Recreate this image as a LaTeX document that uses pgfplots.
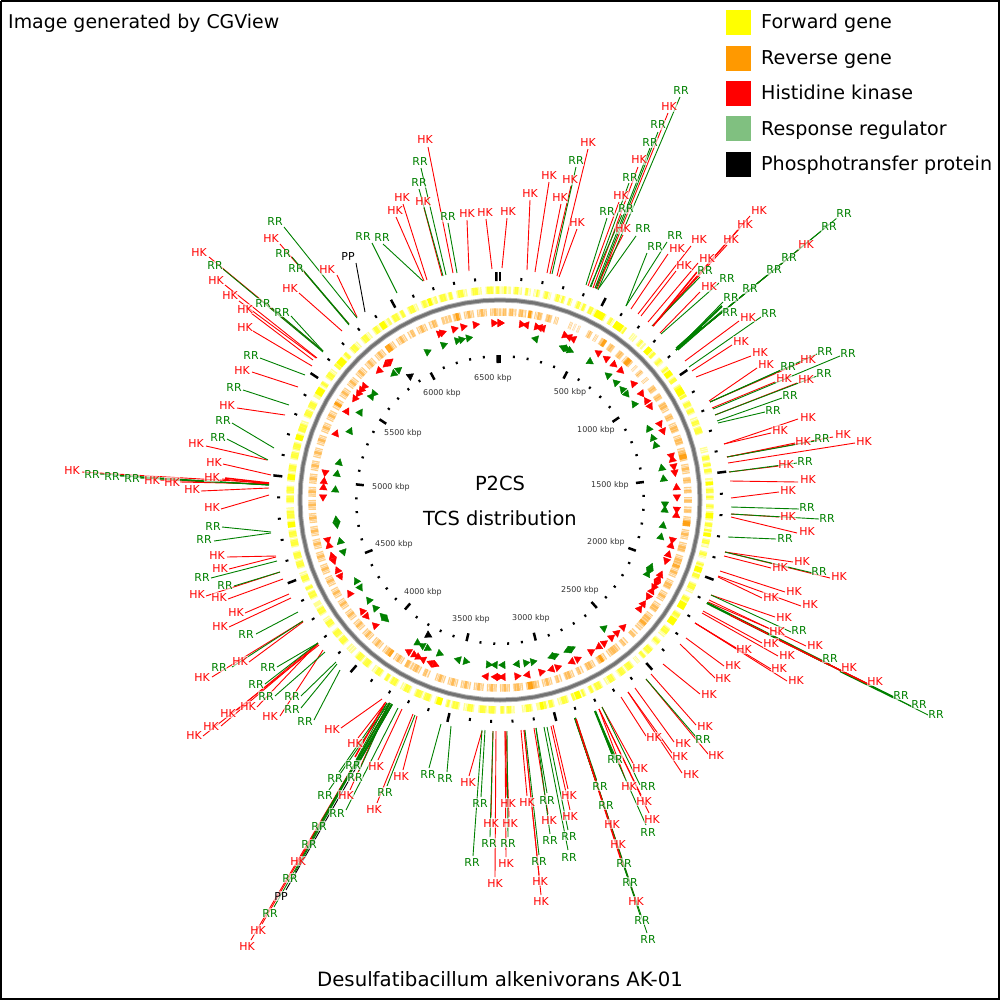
\documentclass[border=0pt]{standalone}
\usepackage{fontspec}
\setmainfont{DejaVu Sans}
\usepackage{pgfplots}
\usepackage{pgfplotstable}
\pgfplotsset{compat=1.18}
\definecolor{fwd}{RGB}{255,255,0}
\definecolor{rev}{RGB}{255,153,0}
\definecolor{rrgreen}{RGB}{0,128,0}
\definecolor{rrswatch}{RGB}{128,192,128}

% callout lines and labels, all in pixels of the picture: inner end, outer end, label
\pgfplotstableread{
x1 y1 x2 y2 lx ly
502 268 507 218 508 212
527 270 530 200 530 194
535 272 549 182 549 176
547 273 561 204 560 198
550 274 571 186 570 180
557 276 588 149 588 143
559 277 577 229 577 223
588 286 619 202 621 196
595 288 623 235 623 229
593 288 638 167 639 160
597 289 668 113 669 107
631 309 668 254 677 249
638 314 691 246 699 240
641 316 676 271 684 266
648 322 698 263 707 259
653 326 727 245 731 240
653 326 740 228 745 225
653 326 750 216 759 211
660 333 700 292 709 287
676 350 802 247 806 245
685 361 739 321 748 317
692 371 732 345 741 341
696 377 751 356 760 352
709 401 757 368 766 364
710 402 802 362 808 359
712 408 775 382 784 378
715 415 797 383 806 379
724 444 798 419 808 417
724 444 771 433 780 430
727 457 795 443 803 441
727 457 833 437 843 434
728 463 855 443 864 441
729 472 779 466 786 464
730 481 798 482 808 479
731 498 779 492 788 490
731 514 779 517 788 516
731 517 797 533 807 531
725 552 793 562 802 561
725 552 830 578 839 576
724 556 771 568 780 567
720 571 785 592 794 591
718 576 801 606 810 604
718 577 762 598 771 597
711 595 775 617 784 617
709 600 806 646 815 645
708 602 768 628 777 631
707 603 842 671 849 667
707 603 870 685 875 681
703 611 762 643 771 643
702 613 778 656 787 655
695 623 737 649 744 649
695 623 771 669 779 668
695 623 787 681 796 680
686 638 724 666 733 665
680 644 715 678 723 678
663 664 700 694 709 694
651 674 696 725 705 726
646 679 708 754 716 755
621 697 646 736 654 737
635 688 674 742 683 743
628 692 672 753 680 756
628 692 682 773 691 774
602 707 634 765 640 768
599 709 625 778 629 786
599 709 641 795 644 801
599 709 649 813 652 819
575 718 608 818 612 824
575 718 615 838 618 844
575 718 634 895 636 901
553 725 568 789 569 795
551 726 570 810 570 816
534 728 548 814 549 820
521 730 527 796 527 802
524 730 539 875 540 881
524 730 541 895 541 901
505 731 507 797 508 803
506 731 509 817 510 823
505 731 506 857 506 863
496 731 495 877 495 883
493 731 491 817 491 823
482 731 469 776 468 782
417 716 403 770 401 776
413 714 377 803 374 809
402 709 378 760 376 766
382 699 341 728 332 729
386 702 358 738 355 743
389 703 350 790 346 795
390 703 302 856 298 861
390 703 262 924 258 930
390 703 251 940 247 946
318 643 257 707 248 706
323 650 280 716 270 716
318 643 237 710 228 713
318 644 221 726 211 726
319 645 203 736 194 735
303 622 249 662 240 661
303 621 212 677 202 677
289 594 245 613 236 612
291 598 229 627 220 626
280 572 206 596 197 594
283 579 228 599 219 597
276 556 227 557 217 555
276 557 229 569 220 568
269 495 221 509 212 507
269 488 201 491 192 489
269 484 222 479 212 477
269 483 82 472 72 470
269 484 160 480 152 480
269 484 180 482 172 482
271 475 223 464 214 462
267 460 206 446 196 443
285 415 237 408 227 405
298 387 252 372 242 370
312 366 253 331 245 327
313 360 251 313 245 309
316 358 239 301 230 296
317 358 225 285 216 281
323 351 209 257 199 253
342 331 299 293 290 289
349 324 280 244 271 239
357 317 337 275 327 270
424 281 396 217 395 211
427 280 403 204 402 198
442 276 424 208 423 202
453 273 428 147 425 140
469 271 467 220 467 214
492 269 486 219 485 213
}\hktable

\pgfplotstableread{
x1 y1 x2 y2 lx ly
552 274 576 167 576 161
586 285 607 218 607 212
590 287 622 215 626 209
591 287 629 183 630 178
595 288 650 148 650 143
596 289 658 132 658 125
598 290 680 97 681 91
599 288 636 236 643 229
626 306 647 253 655 247
626 306 667 242 675 236
652 326 700 277 705 271
661 334 719 283 727 279
676 350 723 302 731 297
676 350 723 310 730 312
676 350 744 294 750 289
676 350 770 273 774 270
676 350 785 261 789 258
676 350 825 228 829 227
676 350 837 218 844 214
689 367 761 317 769 313
710 402 783 369 788 366
710 402 817 354 825 351
713 409 840 356 848 353
715 415 817 376 824 373
717 421 782 398 790 395
718 423 765 412 773 410
727 457 815 441 822 438
729 472 797 463 805 461
731 507 799 509 807 507
731 514 819 519 827 518
728 537 776 539 785 538
725 552 813 573 819 571
711 595 791 632 799 630
707 603 825 663 830 658
707 603 895 698 901 695
707 603 913 707 919 704
707 603 928 715 936 714
646 679 697 738 703 739
602 707 640 785 648 786
595 711 612 755 615 759
595 711 646 825 648 832
575 718 596 780 600 786
575 718 602 800 606 805
575 718 621 858 624 863
575 718 627 876 630 882
575 718 640 915 642 920
575 718 647 933 648 939
547 727 568 830 569 836
544 727 568 850 569 857
536 728 547 793 547 800
536 728 550 834 550 840
525 730 539 855 539 861
507 731 508 837 508 843
493 731 490 837 489 843
485 730 481 797 480 803
482 730 473 856 472 862
451 726 447 772 445 778
441 724 429 768 428 774
415 715 387 786 385 792
387 703 356 760 353 765
387 703 339 772 335 778
390 703 359 771 355 777
389 703 329 790 325 795
398 708 346 810 337 813
390 703 322 820 319 826
390 703 312 838 309 844
390 703 295 872 290 878
390 703 274 907 270 913
318 643 277 667 268 667
318 643 265 684 256 684
325 652 275 696 266 696
336 662 301 696 292 696
337 664 301 708 292 709
340 670 314 720 305 721
298 612 256 634 246 634
303 621 232 667 219 667
280 572 234 586 225 585
277 561 211 578 202 577
271 532 222 527 213 526
271 533 214 541 204 539
269 485 100 474 92 474
269 485 120 476 112 476
269 485 140 478 132 478
268 460 227 439 218 437
274 448 232 423 223 420
289 405 243 390 234 387
305 375 260 358 251 355
323 352 223 269 215 266
323 351 272 308 263 303
323 351 291 316 282 312
349 325 305 273 296 269
349 324 292 257 283 254
357 318 284 227 275 222
397 293 372 243 363 237
423 281 383 244 382 238
443 276 419 189 419 183
446 275 421 168 420 162
457 273 448 223 448 217
}\rrtable

\pgfplotstableread{
x1 y1 x2 y2 lx ly
365 312 356 263 348 257
392 705 286 890 281 896
}\pptable

% dense bundles, where many lines run together
\pgfplotstableread{
x1 y1 x2 y2
677 349 722 306
707 603 830 665
840 671 895 698
575 718 596 780
392 704 355 768
595 711 615 760
}\greenbundle
\pgfplotstableread{
x1 y1 x2 y2
653 326 697 272
576 719 596 782
596 782 623 866
730 615 768 634
775 638 870 685
385 703 355 757
269 483 225 478
}\redbundle
\pgfplotstableread{
x1 y1 x2 y2
677 349 702 327
}\greenroot

% tick positions in kbp
\pgfplotstableread[row sep=\\]{k\\100\\200\\300\\400\\600\\700\\800\\900\\1100\\1200\\1300\\1400\\1600\\1700\\1800\\1900\\2100\\2200\\2300\\2400\\2600\\2700\\2800\\2900\\3100\\3200\\3300\\3400\\3600\\3700\\3800\\3900\\4100\\4200\\4300\\4400\\4600\\4700\\4800\\4900\\5100\\5200\\5300\\5400\\5600\\5700\\5800\\5900\\6100\\6200\\6300\\6400\\}\minorticks
\pgfplotstableread[row sep=\\]{k\\0\\500\\1000\\1500\\2000\\2500\\3000\\3500\\4000\\4500\\5000\\5500\\6000\\6500\\}\majorticks

% angles of the grey backbone circle
\pgfplotstableread[row sep=\\]{a\\0\\5\\10\\15\\20\\25\\30\\35\\40\\45\\50\\55\\60\\65\\70\\75\\80\\85\\90\\95\\100\\105\\110\\115\\120\\125\\130\\135\\140\\145\\150\\155\\160\\165\\170\\175\\180\\185\\190\\195\\200\\205\\210\\215\\220\\225\\230\\235\\240\\245\\250\\255\\260\\265\\270\\275\\280\\285\\290\\295\\300\\305\\310\\315\\320\\325\\330\\335\\340\\345\\350\\355\\360\\}\circleangles

% gene blocks, degrees clockwise from the top
\pgfplotstableread[row sep=\\]{a b\\0 3\\3.6 6\\6.8 8.4\\9.2 11\\11.8 14\\15 18\\18.8 20\\21 24\\24.8 27\\27 30\\31 32.6\\33 36.5\\38.5 40\\41 43.2\\44 47\\48 50\\51 56\\57 61\\62 66\\67 71.8\\75.5 77\\77.6 83\\84 86\\86.4 90\\91 92.6\\93 95.6\\96 100\\100.6 103\\104 106\\107 112\\113 116\\117 121\\122 126\\127 130\\131 133\\134 138\\139 140\\141 146\\147 150\\151 155\\156 160\\161 164\\165 170\\171 174\\176 180\\181 186\\187 190\\191 195\\196 198\\199 204\\205 208\\209 213\\214 217\\218 223\\224 226\\227 232\\233 236\\237 241\\242 246\\247 250\\251 256\\257 262\\263 268\\269 274\\275 280\\281 286\\287 292\\293 298\\299 304\\305 308\\309 314\\315 318\\319 322\\323 328\\329 333\\334 337\\338 342\\343 347\\348 351\\352 355\\356 360\\}\fwdpale
\pgfplotstableread[row sep=\\]{a b\\1 1.7\\4 5\\7 7.6\\10 10.5\\12.3 13.2\\15.5 16.4\\17 17.6\\19 19.6\\21.5 22.3\\23 23.7\\25 26\\31.3 32\\36 36.5\\41.5 42\\46 46.8\\48.5 49.4\\51.5 52\\55 56\\57.5 58\\60.3 61\\62.5 63.6\\64.5 65.5\\68 69\\70 71.5\\78 79\\80 80.8\\81.5 82.4\\87 88\\88.8 89.5\\91.3 92.1\\96.3 97.3\\98 98.6\\101 102\\104.4 105.3\\107.5 108\\110.5 111.5\\113.5 115\\117.5 118.5\\122.5 123.5\\127.5 129\\131.5 132.4\\134.5 136\\137 137.7\\141.5 143\\144 145.4\\147.5 149\\151.5 153\\154 154.7\\156.5 157\\159.3 160\\161.5 163\\165.5 166.6\\167.3 167.9\\171.5 173\\177 178\\179 179.8\\181.5 183\\184 185.5\\187.5 189\\191.5 193\\194 194.6\\199.5 201\\202 203.5\\205.5 207\\209.5 211\\212 212.8\\214.5 216\\218.5 220\\221 222.5\\227.5 229\\230 231.5\\233.5 235\\237.5 239\\242.5 244\\245 245.7\\247.5 249\\251.5 253\\254 255.5\\257.5 259\\260 261.4\\265 267\\269.5 271\\272 273.5\\278 279.5\\281.5 283\\284 285.5\\289 291\\293.5 295\\296 297.5\\303 303.7\\305.5 307\\309 309.8\\313 313.8\\315.5 317\\319.5 321\\323.5 324.7\\328 328.6\\329.5 331\\332 332.8\\334.5 336\\338.5 339.5\\342 342.6\\343.5 345\\346 346.8\\348.5 350\\352.5 354\\356.5 358\\359 359.7\\}\fwdmid
\pgfplotstableread[row sep=\\]{a b\\27 29.6\\33 35.5\\44 45.5\\52.5 54\\58 60\\85 86\\93.5 95\\99 100\\108.5 110\\119 121\\124 126\\157.5 159\\168 169\\196 197.5\\262.5 264\\275.5 277\\286.5 288\\300 302\\310 312\\325.5 327\\340 341\\}\fwdstrong

\pgfplotstableread[row sep=\\]{a b\\0 2\\2.6 5\\5.6 8\\8.6 10\\10.6 13\\14 16\\16.8 18\\21.5 22.4\\23 23.6\\24.3 25\\27.5 29\\30 31\\32 34\\35 37\\38.5 40.5\\41.2 44\\45.2 46\\47 48.5\\50 51\\53 55\\56 58\\59 62\\63 65\\66 69\\70 73\\74 78\\79 82\\83 85\\86 88\\89 91\\92 94\\95 98\\99 102\\103 106\\107 110\\111 114\\115 118\\119 122\\123 126\\127 130\\131 133\\134 136\\138 140\\141 145\\146 149\\150 153\\154 156\\157 160\\161 163\\164 167\\168 172\\173 176\\177 180\\181 184\\185 188\\189 192\\193 196\\197 200\\202 204\\205 210\\211 214\\215 218\\219 222\\223 226\\227 230\\231 234\\235 238\\239 242\\243 246\\247 250\\251 254\\255 258\\259 262\\263 266\\267 270\\271 274\\275 278\\279 282\\283 286\\287 290\\291 294\\295 298\\299 302\\303 306\\307 310\\311 314\\315 318\\319 322\\323 326\\327 330\\331 333\\334 337\\338 340.5\\342 345\\345.5 348\\349 352\\353 356\\357 360\\}\revpale
\pgfplotstableread[row sep=\\]{a b\\1 1.7\\3 4\\6 7\\9 9.5\\11.5 12.5\\14.5 15.5\\28 28.6\\32.5 33.5\\35.5 36.5\\39 40\\42 43\\47.5 48\\53.5 54.5\\56.5 57.5\\59.5 61\\63.5 64.5\\67 68.5\\71 72.5\\75 77\\80 81\\83.5 84.5\\87 87.6\\90 90.6\\93 93.6\\96 97.5\\100 101\\104 105.5\\108 109.5\\112 113\\116 117.5\\120 121\\124 125.5\\128 129.5\\135 135.6\\139 139.5\\142 144\\147 148.5\\151 152.5\\155 155.5\\158 159.5\\162 162.5\\165 166\\169 171\\174 175.5\\178 179\\182 183\\186 187\\190 191\\194 195\\198 199\\203 203.6\\206 207\\209 210\\212 213\\216 217\\220 221\\224 225\\228 229\\232 233\\236 237\\240 241\\244 245\\248 249\\252 253\\256 257\\260 261\\264 265\\268 269\\272 273\\276 277\\280 281\\284 285\\288 289\\292 293\\296 297\\300 301\\304 305\\308 309\\312 313\\316 317\\320 321\\324 325\\328 329\\332 332.6\\335 336\\339 340\\346 347\\350 351\\354 355\\358 359\\}\revmid
\pgfplotstableread[row sep=\\]{a b\\8.6 9.6\\33 34\\42 43.5\\76 77.5\\96.5 98\\110 111\\130 131\\147 148\\170 171.5\\215 216\\300 301\\323 324.5\\346.5 347.5\\}\revstrong

% two component genes: angle, and direction (1 anticlockwise, -1 clockwise)
\pgfplotstableread[row sep=\\]{a d\\0 -1\\7 -1\\8.6 1\\12 -1\\13 1\\14 1\\21.5 -1\\23 1\\24.5 1\\33.8 1\\37 1\\40 -1\\43 -1\\49 1\\53 -1\\56 1\\58 -1\\64.5 -1\\67 -1\\75.5 -1\\76.8 1\\79 -1\\81 -1\\86 1\\89 -1\\93 -1\\95 1\\103 -1\\105 1\\108 1\\110 -1\\115 1\\116.5 1\\118 -1\\119.5 -1\\121 1\\123 -1\\126 1\\128 1\\136 1\\138.7 1\\141 1\\144 1\\146 -1\\149 1\\154 1\\156 -1\\161 1\\163 -1\\166.5 1\\171 -1\\174.5 1\\179 -1\\180.3 1\\181.5 -1\\184.5 -1\\201.5 1\\203 -1\\205.7 -1\\207.5 1\\209 1\\211 -1\\224.8 -1\\229 1\\231 -1\\238 -1\\244.5 1\\246.5 -1\\250 1\\251.5 -1\\255 -1\\257 1\\271 1\\274 -1\\276 -1\\279 1\\292 -1\\300 -1\\305 1\\307 1\\308.5 1\\310 1\\317 1\\320 1\\321.5 -1\\340 -1\\341 -1\\345 -1\\348 -1\\352 -1\\358 -1\\360 -1\\}\hkgenes
\pgfplotstableread[row sep=\\]{a d\\12.5 1\\22.5 1\\23.8 -1\\25 -1\\33 -1\\41 1\\44.7 1\\48 1\\50 -1\\54.5 1\\64.5 1\\68 1\\70.7 1\\78.9 1\\82.7 1\\91.4 -1\\93.5 1\\99 1\\103 1\\114 1\\115.5 -1\\116.7 1\\141 1\\154.3 1\\155.8 -1\\160.5 1\\161.7 -1\\168.5 1\\171 1\\174 -1\\179 -1\\181.7 -1\\184 1\\192 1\\194.6 -1\\201.5 1\\206 1\\208 -1\\210 1\\223.8 1\\225.2 -1\\229 -1\\232.5 -1\\238 1\\240.5 -1\\251.7 1\\255.4 -1\\261.5 1\\263 -1\\273.5 -1\\279 -1\\283 -1\\294.6 -1\\302 -1\\308.8 -1\\310.2 1\\320 1\\322 -1\\333.9 -1\\340 -1\\345 -1\\346.5 -1\\349 -1\\}\rrgenes
\pgfplotstableread[row sep=\\]{a d\\208 1\\324 -1\\}\ppgenes

% plotting helpers; angles run clockwise from the top
\newcommand{\ringblocks}[4]{%
  \addplot[#3, opacity=#4, line width=7.5bp,
    quiver={u={#2*(sin(\thisrow{b})-sin(\thisrow{a}))},
            v={-#2*(cos(\thisrow{b})-cos(\thisrow{a}))}}]
    table[x expr={500+#2*sin(\thisrow{a})}, y expr={500-#2*cos(\thisrow{a})}] {#1};}
% thin white cuts through a ring, at an angle worked out from a block table
\newcommand{\ringcuts}[3]{%
  \addplot[white, opacity=0.75, line width=0.6bp,
    quiver={u={8*sin(#3)}, v={-8*cos(#3)}}]
    table[x expr={500+(#2-4)*sin(#3)}, y expr={500-(#2-4)*cos(#3)}] {#1};}
\newcommand{\radial}[4]{%
  \addplot[black, line width=#4,
    quiver={u={(#3-#2)*sin(\thisrow{k}*0.05524)},
            v={-(#3-#2)*cos(\thisrow{k}*0.05524)}}]
    table[x index=0, y index=0, x expr={500+#2*sin(\thisrow{k}*0.05524)},
          y expr={500-#2*cos(\thisrow{k}*0.05524)}] {#1};}
\newcommand{\backbone}[2]{%
  \addplot[#1, line width=#2] table[x index=0, y index=0, x expr={500+200*sin(\thisrow{a})},
    y expr={500-200*cos(\thisrow{a})}] {\circleangles};}
\newcommand{\genemarks}[3]{%
  \addplot[scatter, only marks, mark=triangle*, mark size=4.3,
    scatter/use mapped color={draw=#3, fill=#3},
    visualization depends on={\thisrow{d}*90-\thisrow{a} \as \tri},
    scatter/@pre marker code/.append style={/tikz/rotate=\tri}]
    table[x expr={500+#2*sin(\thisrow{a})}, y expr={500-#2*cos(\thisrow{a})}] {#1};}
\newcommand{\calloutlines}[3]{%
  \addplot[#2, line width=#3,
    quiver={u=\thisrow{x2}-\thisrow{x1}, v=\thisrow{y2}-\thisrow{y1}}]
    table[x=x1, y=y1] {#1};}
\newcommand{\calloutlabels}[3]{%
  \addplot[only marks, mark=none, nodes near coords={#3},
    every node near coord/.style={anchor=center, text=#2, fill=white,
      fill opacity=0.6, text opacity=1, inner sep=0.6pt,
      font=\fontsize{11}{11}\selectfont}]
    table[x=lx, y=ly] {#1};}
\newcommand{\swatch}[2]{%
  \addplot[only marks, mark=square*, mark size=11.9, color=#1] coordinates {(738,#2)};}
% text placed by its baseline
\newcommand{\bigtext}[4][base west]{%
  \node[anchor=#1, inner sep=0pt, font=\fontsize{#3}{#3}\selectfont] at (axis cs:#2) {#4};}

\begin{document}
\begin{tikzpicture}
\begin{axis}[
    scale only axis, width=1000bp, height=1000bp,
    xmin=0, xmax=1000, ymin=0, ymax=1000,
    y dir=reverse, hide axis,
]
% frame
\addplot[black, line width=2bp] coordinates {(1,1) (999,1) (999,999) (1,999) (1,1)};

% gene rings
\ringblocks{\fwdpale}{210}{fwd}{0.42}
\ringcuts{\fwdpale}{210}{(2*\thisrow{a}+\thisrow{b})/3}
\ringcuts{\fwdpale}{210}{(\thisrow{a}+2*\thisrow{b})/3}
\ringcuts{\fwdmid}{210}{\thisrow{a}-0.5}
\ringcuts{\fwdmid}{210}{\thisrow{b}+0.5}
\ringblocks{\fwdmid}{210}{fwd}{0.6}
\ringblocks{\fwdstrong}{210}{fwd}{1}
\ringblocks{\revpale}{188}{rev}{0.48}
\ringcuts{\revpale}{188}{(2*\thisrow{a}+\thisrow{b})/3}
\ringcuts{\revpale}{188}{(\thisrow{a}+2*\thisrow{b})/3}
\ringcuts{\revmid}{188}{\thisrow{a}-0.5}
\ringcuts{\revmid}{188}{\thisrow{b}+0.5}
\ringblocks{\revmid}{188}{rev}{0.35}
\ringblocks{\revstrong}{188}{rev}{0.8}

% backbone
\backbone{black!30}{5bp}
\backbone{black!55}{3bp}

% tick rings
\radial{\minorticks}{220}{223}{2bp}
\radial{\majorticks}{219}{228}{2.5bp}
\radial{\minorticks}{142.5}{145}{2bp}
\radial{\majorticks}{137}{145}{2.5bp}

% two component genes
\genemarks{\hkgenes}{177}{red}
\genemarks{\rrgenes}{165}{rrgreen}
\genemarks{\ppgenes}{153}{black}

% tick labels
\addplot[only marks, mark=none, point meta=explicit symbolic, nodes near coords,
    every node near coord/.style={anchor=center, text=black!80, inner sep=0pt,
      font=\fontsize{8}{8}\selectfont}]
  coordinates {
    (570,392) [500 kbp] (596,430) [1000 kbp] (610,485) [1500 kbp]
    (606,542) [2000 kbp] (580,590) [2500 kbp] (531,618) [3000 kbp]
    (471,619) [3500 kbp] (423,592) [4000 kbp] (394,544) [4500 kbp]
    (391,487) [5000 kbp] (403,433) [5500 kbp] (442,393) [6000 kbp]
    (493,378) [6500 kbp]
  };

% callouts
\calloutlines{\hktable}{red}{0.9bp}
\calloutlines{\rrtable}{rrgreen}{0.9bp}
\calloutlines{\pptable}{black}{0.9bp}
\calloutlines{\greenbundle}{rrgreen}{2.2bp}
\calloutlines{\greenroot}{rrgreen}{4bp}
\calloutlines{\redbundle}{red}{1.5bp}
\calloutlabels{\hktable}{red}{HK}
\calloutlabels{\rrtable}{rrgreen}{RR}
\calloutlabels{\pptable}{black}{PP}

% legend
\swatch{fwd}{22}
\swatch{rev}{58}
\swatch{red}{93}
\swatch{rrswatch}{128}
\swatch{black}{164}
\bigtext{761,28}{19.2}{Forward gene}
\bigtext{761,64}{19.2}{Reverse gene}
\bigtext{761,99}{19.2}{Histidine kinase}
\bigtext{761,135}{19.2}{Response regulator}
\bigtext{761,170}{19.2}{Phosphotransfer protein}

% titles
\bigtext{8,28}{19}{Image generated by CGView}
\bigtext[base]{500,490}{19.5}{P2CS}
\bigtext[base]{500,525}{19.5}{TCS distribution}
\bigtext[base]{500,986}{19.8}{Desulfatibacillum alkenivorans AK-01}
\end{axis}
\end{tikzpicture}
\end{document}
